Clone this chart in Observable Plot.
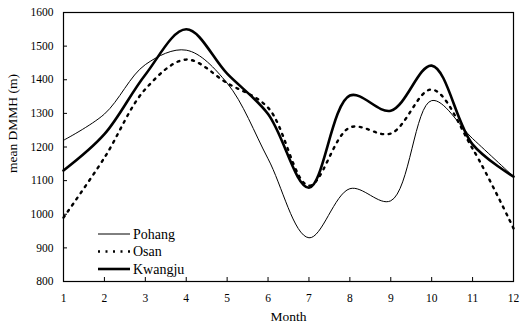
<!DOCTYPE html>
<html>
<head>
<meta charset="utf-8">
<script src="https://cdn.jsdelivr.net/npm/d3@7"></script>
<script src="https://cdn.jsdelivr.net/npm/@observablehq/plot@0.6"></script>
<style>
  html, body { margin: 0; padding: 0; background: white; }
  #chart { position: relative; width: 521px; height: 329px; }
  #legend { position: absolute; left: 0; top: 0; pointer-events: none; }
</style>
</head>
<body>
<div id="chart"></div>
<script>
const months = [1, 2, 3, 4, 5, 6, 7, 8, 9, 10, 11, 12];
const pohang  = [1220, 1298, 1445, 1488, 1390, 1165, 930, 1076, 1040, 1338, 1225, 1112];
const osan    = [990, 1168, 1372, 1460, 1390, 1317, 1085, 1258, 1240, 1371, 1195, 958];
const kwangju = [1130, 1238, 1415, 1550, 1418, 1298, 1079, 1353, 1308, 1442, 1208, 1112];
const seriesNames = ["Pohang", "Osan", "Kwangju"];
const xTicks = months;
const yTicks = [800, 900, 1000, 1100, 1200, 1300, 1400, 1500, 1600];

const rows = (vals) => months.map((m, i) => ({month: m, value: vals[i]}));
const styles = {
  Pohang:  {stroke: "black", strokeWidth: 1},
  Osan:    {stroke: "black", strokeWidth: 2.4, strokeDasharray: "2,5.5"},
  Kwangju: {stroke: "black", strokeWidth: 2.6}
};
const seriesData = {Pohang: rows(pohang), Osan: rows(osan), Kwangju: rows(kwangju)};

const chart = Plot.plot({
  width: 521,
  height: 329,
  marginLeft: 63,
  marginRight: 8,
  marginTop: 12,
  marginBottom: 48,
  style: {fontFamily: "'Liberation Serif', 'Times New Roman', serif", fontSize: "11.5px", background: "white", color: "black"},
  x: {domain: [1, 12]},
  y: {domain: [800, 1600]},
  marks: [
    Plot.axisX({ticks: xTicks, tickSize: -4, tickPadding: 16, tickFormat: d => String(d), label: null}),
    Plot.text(["Month"], {frameAnchor: "bottom", dy: 39, fontSize: 13.5}),
    Plot.axisY({ticks: yTicks, tickSize: -4, tickPadding: 14, tickFormat: d => String(d), label: null}),
    Plot.text(["mean DMMH (m)"], {frameAnchor: "left", rotate: -90, dx: -51, dy: 26, fontSize: 13.5}),
    ...seriesNames.map(name => Plot.line(seriesData[name], {x: "month", y: "value", curve: "catmull-rom", ...styles[name]})),
    Plot.frame({stroke: "black", strokeWidth: 1.2})
  ]
});
document.getElementById("chart").appendChild(chart);

// Legend overlay (inside the plot, bottom-left)
const legend = d3.select("#chart").append("svg")
  .attr("id", "legend").attr("width", 521).attr("height", 329)
  .style("font-family", "'Liberation Serif', 'Times New Roman', serif");
const lx = 98, lw = 32, ly0 = 234, lstep = 17.5;
seriesNames.forEach((name, i) => {
  const y = ly0 + i * lstep;
  const s = styles[name];
  legend.append("line")
    .attr("x1", lx).attr("x2", lx + lw).attr("y1", y).attr("y2", y)
    .attr("stroke", s.stroke).attr("stroke-width", s.strokeWidth)
    .attr("stroke-dasharray", s.strokeDasharray || null);
  legend.append("text")
    .attr("x", lx + lw + 3).attr("y", y).attr("dy", "0.35em")
    .attr("font-size", 14).text(name);
});
</script>
</body>
</html>
